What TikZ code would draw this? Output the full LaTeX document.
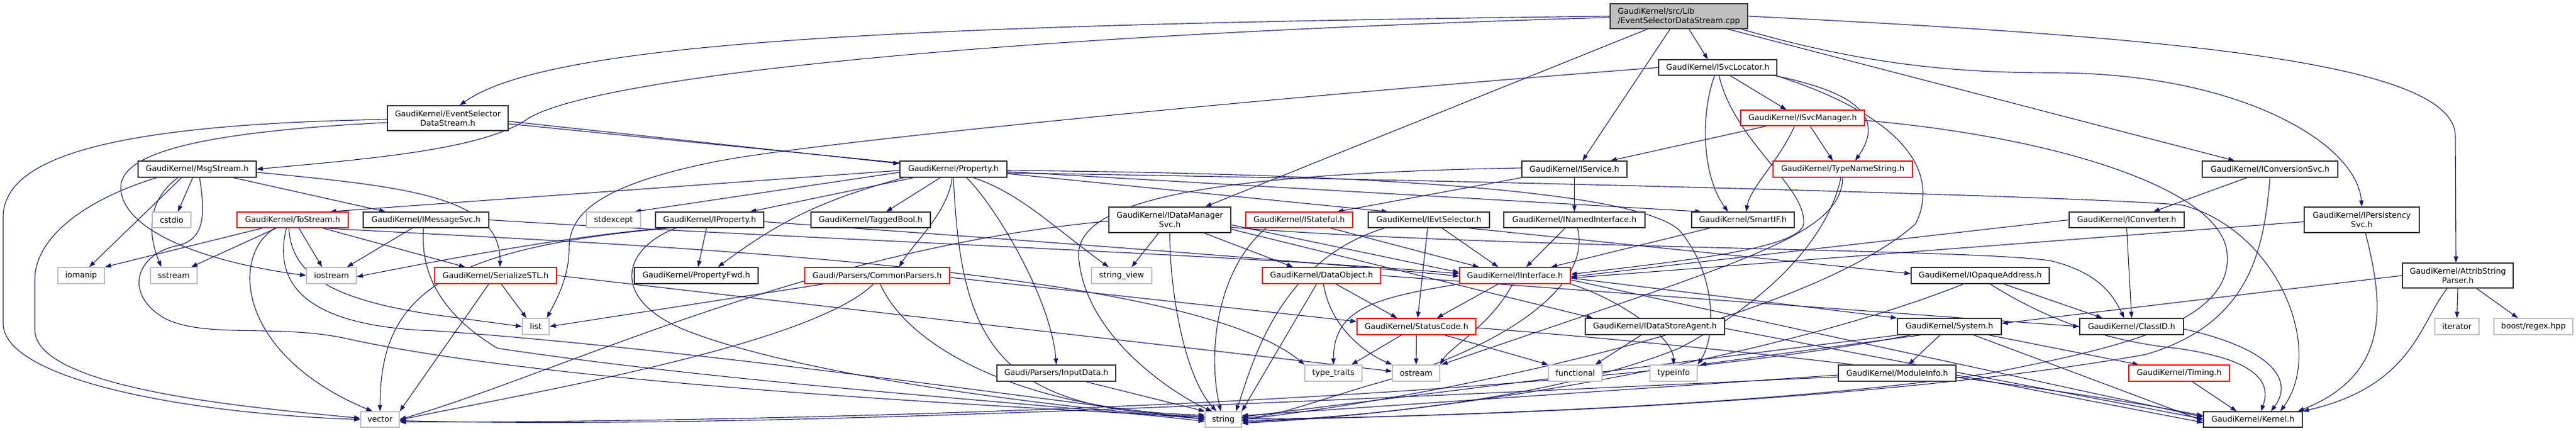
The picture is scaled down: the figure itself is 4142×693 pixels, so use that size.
\documentclass[tikz,border=0pt]{standalone}
\usepackage{fontspec}
\setmainfont{DejaVu Sans}
\usetikzlibrary{arrows.meta}
\definecolor{edgec}{RGB}{25,25,112}
\definecolor{grey75}{RGB}{191,191,191}
\definecolor{nodeblack}{RGB}{50,50,50}
\definecolor{rootborder}{RGB}{64,64,64}
\newcommand\fnt{\fontsize{12.7}{15}\selectfont}
\newcommand\nd[7]{\node[#6, minimum width={#4-#2}, minimum height={#5-#3}] (#1) at ({(#2+#4)/2},{(#3+#5)/2}) {#7};}
\pgfdeclarelayer{bg}
\pgfsetlayers{bg,main}
\tikzset{
 nbox/.style={draw=nodeblack, line width=1.3pt, fill=white, inner sep=0pt, font=\fnt, align=center},
 rbox/.style={nbox, draw=red},
 gbox/.style={nbox, draw=grey75},
 rootbox/.style={nbox, fill=grey75, draw=rootborder, align=left},
 e/.style={draw=edgec, line width=1.1pt, -{Triangle[length=10pt,width=7pt]}}
}
\begin{document}
\begin{tikzpicture}[x=1pt,y=-1pt]
\useasboundingbox (0,0) rectangle (4142,693);
% nodes
\nd{root}{2589}{6}{2810}{46}{rootbox}{GaudiKernel/src/Lib\\/EventSelectorDataStream.cpp}
\nd{esds}{623}{170}{817}{210}{nbox}{GaudiKernel/EventSelector\\DataStream.h}
\nd{msg}{222}{259}{412}{285}{nbox}{GaudiKernel/MsgStream.h}
\nd{cstdio}{245}{341}{307}{366}{gbox}{cstdio}
\nd{tostream}{381}{341}{560}{366}{rbox}{GaudiKernel/ToStream.h}
\nd{imsg}{584}{341}{786}{366}{nbox}{GaudiKernel/IMessageSvc.h}
\nd{iomanip}{93}{430}{168}{456}{gbox}{iomanip}
\nd{sstream}{242}{430}{317}{456}{gbox}{sstream}
\nd{iostream}{493}{430}{573}{456}{gbox}{iostream}
\nd{vector}{580}{662}{642}{687}{gbox}{vector}
\nd{serial}{699}{430}{895}{456}{rbox}{GaudiKernel/SerializeSTL.h}
\nd{stdexcept}{943}{341}{1030}{366}{gbox}{stdexcept}
\nd{iprop}{1054}{341}{1228}{366}{nbox}{GaudiKernel/IProperty.h}
\nd{propfwd}{1020}{430}{1219}{456}{nbox}{GaudiKernel/PropertyFwd.h}
\nd{list}{840}{512}{883}{538}{gbox}{list}
\nd{common}{1294}{430}{1527}{456}{rbox}{Gaudi/Parsers/CommonParsers.h}
\nd{tagged}{1304}{341}{1496}{366}{nbox}{GaudiKernel/TaggedBool.h}
\nd{prop}{1447}{259}{1619}{285}{nbox}{GaudiKernel/Property.h}
\nd{idms}{1783}{333}{1979}{374}{nbox}{GaudiKernel/IDataManager\\Svc.h}
\nd{sview}{1755}{430}{1852}{456}{gbox}{string\_view}
\nd{inputdata}{1603}{587}{1794}{613}{nbox}{Gaudi/Parsers/InputData.h}
\nd{string}{1938}{662}{1996}{687}{gbox}{string}
\nd{istateful}{2003}{341}{2175}{366}{rbox}{GaudiKernel/IStateful.h}
\nd{dataobj}{2030}{430}{2220}{456}{rbox}{GaudiKernel/DataObject.h}
\nd{ievtsel}{2200}{341}{2395}{366}{nbox}{GaudiKernel/IEvtSelector.h}
\nd{inamed}{2418}{341}{2645}{366}{nbox}{GaudiKernel/INamedInterface.h}
\nd{iservice}{2447}{259}{2616}{285}{nbox}{GaudiKernel/IService.h}
\nd{iinterface}{2347}{430}{2525}{456}{rbox}{GaudiKernel/IInterface.h}
\nd{status}{2182}{512}{2373}{538}{rbox}{GaudiKernel/StatusCode.h}
\nd{idsa}{2549}{512}{2773}{538}{nbox}{GaudiKernel/IDataStoreAgent.h}
\nd{ttraits}{2098}{587}{2190}{613}{gbox}{type\_traits}
\nd{ostream}{2239}{587}{2315}{613}{gbox}{ostream}
\nd{functional}{2490}{587}{2576}{613}{gbox}{functional}
\nd{typeinfo}{2653}{587}{2729}{613}{gbox}{typeinfo}
\nd{isvcloc}{2667}{96}{2857}{121}{nbox}{GaudiKernel/ISvcLocator.h}
\nd{smartif}{2720}{341}{2885}{366}{nbox}{GaudiKernel/SmartIF.h}
\nd{isvcmgr}{2799}{177}{2998}{202}{rbox}{GaudiKernel/ISvcManager.h}
\nd{typename}{2851}{259}{3075}{285}{rbox}{GaudiKernel/TypeNameString.h}
\nd{iconvsvc}{3541}{259}{3759}{285}{nbox}{GaudiKernel/IConversionSvc.h}
\nd{iconverter}{3327}{341}{3512}{366}{nbox}{GaudiKernel/IConverter.h}
\nd{ipers}{3705}{333}{3890}{374}{nbox}{GaudiKernel/IPersistency\\Svc.h}
\nd{attrib}{3863}{423}{4041}{463}{nbox}{GaudiKernel/AttribString\\Parser.h}
\nd{iterator}{3915}{512}{3986}{538}{gbox}{iterator}
\nd{boost}{4010}{512}{4137}{538}{gbox}{boost/regex.hpp}
\nd{iopaque}{3073}{430}{3295}{456}{nbox}{GaudiKernel/IOpaqueAddress.h}
\nd{system}{3051}{512}{3218}{538}{nbox}{GaudiKernel/System.h}
\nd{classid}{3344}{512}{3511}{538}{nbox}{GaudiKernel/ClassID.h}
\nd{moduleinfo}{2956}{587}{3145}{613}{nbox}{GaudiKernel/ModuleInfo.h}
\nd{timing}{3423}{587}{3585}{613}{rbox}{GaudiKernel/Timing.h}
\nd{kernel}{3543}{662}{3702}{687}{nbox}{GaudiKernel/Kernel.h}
\begin{pgfonlayer}{bg}
\fill[white] (0,0) rectangle (4142,693);
% root
\draw[e] (root.west) .. controls (1400,40) and (880,70) .. ([xshift=19pt]esds.north);
\draw[e] ([yshift=-2pt]root.west) .. controls (1500,60) and (950,130) .. (850,190) .. controls (780,240) and (600,255) .. (msg.east);
\draw[e] ([xshift=-50pt]root.south) -- ([xshift=57pt]idms.north);
\draw[e] ([xshift=-14pt]root.south) -- ([xshift=13pt]iservice.north);
\draw[e] ([xshift=16pt]root.south) -- ([xshift=-16pt]isvcloc.north);
\draw[e] ([xshift=78pt]root.south) -- ([xshift=-57pt]iconvsvc.north);
\draw[e] ([xshift=100pt]root.south) .. controls (3000,105) and (3150,117) .. (3300,117) .. controls (3600,117) and (3790,230) .. (ipers.north);
\draw[e] (root.east) .. controls (3500,60) and (3950,100) .. (3948,220) -- ([xshift=-3pt]attrib.north);
% esds
\draw[e] ([yshift=-2pt]esds.west) .. controls (150,200) and (5,260) .. (5,350) -- (5,520) .. controls (5,610) and (300,665) .. (vector.west);
\draw[e] ([yshift=-7pt]esds.west) .. controls (260,215) and (185,260) .. (195,310) .. controls (205,370) and (320,420) .. (iostream.west);
\draw[e] ([yshift=-5pt]esds.east) -- ([yshift=9pt]prop.west);
\draw[e] ([yshift=-9pt]esds.east) -- ([xshift=-66pt]ievtsel.north);
% msg
\draw[e] ([xshift=58pt]msg.south) -- ([xshift=-65pt]imsg.north);
\draw[e] ([yshift=-5pt]msg.east) .. controls (650,300) and (805,315) .. ([xshift=7pt]serial.north);
\draw[e] ([xshift=-7pt]msg.south) -- ([xshift=10pt]cstdio.north);
\draw[e] ([xshift=-25pt]msg.south) -- ([xshift=13pt]iomanip.north);
\draw[e] ([xshift=-31pt]msg.south) .. controls (240,320) and (235,370) .. ([xshift=-20pt]sstream.north);
\draw[e] ([xshift=-65pt]msg.south) .. controls (140,320) and (56,380) .. (56,450) -- (56,530) .. controls (56,625) and (400,655) .. ([yshift=2pt]vector.west);
\draw[e] ([xshift=4pt]msg.south) .. controls (330,345) and (330,385) .. (285,395) .. controls (215,410) and (200,475) .. (265,512) .. controls (330,545) and (450,520) .. (560,545) .. controls (900,620) and (1650,655) .. ([yshift=3pt]string.west);
% tostream
\draw[e] ([xshift=-48pt]tostream.south) -- (iomanip.north east);
\draw[e] ([xshift=-26pt]tostream.south) -- ([xshift=28pt]sstream.north);
\draw[e] ([xshift=10pt]tostream.south) -- ([xshift=-15pt]iostream.north);
\draw[e] ([xshift=-28pt]tostream.south) .. controls (370,410) and (380,570) .. ([xshift=-12pt]vector.north);
\draw[e] ([xshift=-10pt]tostream.south) .. controls (440,450) and (480,525) .. (700,532) .. controls (1100,560) and (1700,645) .. (string.west);
\draw[e] ([xshift=-6pt]tostream.south) .. controls (468,440) and (530,480) .. (690,505) -- (list.west);
\draw[e] ([xshift=48pt]tostream.south) -- ([xshift=-49pt]serial.north);
\draw[e] ([xshift=52pt]tostream.south) .. controls (900,390) and (1900,420) .. (ttraits.north west);
% imsg
\draw[e] ([xshift=-22pt]imsg.south) -- ([xshift=25pt]iostream.north);
\draw[e] ([xshift=-4pt]imsg.south) .. controls (676,430) and (700,500) .. (800,560) .. controls (1200,620) and (1700,650) .. ([yshift=-3pt]string.west);
\draw[e] (imsg.east) .. controls (1200,380) and (2000,410) .. ([yshift=3pt]iinterface.west);
% prop
\draw[e] ([yshift=-2pt]prop.west) -- ([xshift=60pt]tostream.north);
\draw[e] ([yshift=-5pt]prop.west) -- ([xshift=34pt]stdexcept.north);
\draw[e] ([xshift=-64pt]prop.south) -- ([xshift=65pt]iprop.north);
\draw[e] ([xshift=-80pt]prop.south) .. controls (1330,320) and (1260,350) .. ([xshift=35pt]propfwd.north);
\draw[e] ([xshift=-21pt]prop.south) -- ([xshift=25pt]tagged.north);
\draw[e] ([xshift=-2pt]prop.south) .. controls (1525,340) and (1470,390) .. ([xshift=35pt]common.north);
\draw[e] (prop.south) .. controls (1545,550) and (1600,660) .. ([yshift=5pt]string.west);
\draw[e] ([xshift=21pt]prop.south) .. controls (1600,330) and (1690,480) .. (inputdata.north);
\draw[e] ([xshift=32pt]prop.south) .. controls (1640,310) and (1700,370) .. ([xshift=-21pt]sview.north);
\draw[e] ([yshift=-4pt]prop.east) -- ([xshift=-67pt]smartif.north);
\draw[e] ([yshift=-6pt]prop.east) .. controls (2500,292) and (3400,318) .. (3510,330) .. controls (3660,370) and (3740,560) .. ([xshift=44pt]kernel.north);
\draw[e] ([yshift=-2pt]prop.east) .. controls (2300,280) and (2640,315) .. (2700,370) .. controls (2760,440) and (2760,540) .. (typeinfo.north east);
% iprop
\draw[e] ([xshift=-5pt]iprop.south) -- ([xshift=3pt]propfwd.north);
\draw[e] ([yshift=-3pt]iprop.east) .. controls (1700,390) and (2100,420) .. ([yshift=-1pt]iinterface.west);
\draw[e] ([xshift=-70pt]iprop.south) .. controls (900,380) and (650,430) .. ([yshift=-2pt]iostream.east);
\draw[e] ([xshift=-64pt]iprop.south) .. controls (700,400) and (612,480) .. (vector.north);
\draw[e] ([xshift=-54pt]iprop.south) .. controls (1000,400) and (980,480) .. (1100,530) .. controls (1300,610) and (1750,660) .. ([yshift=1pt]string.west);
% serial
\draw[e] ([xshift=9pt]serial.south) -- ([xshift=-15pt]list.north);
\draw[e] ([xshift=-11pt]serial.south) -- (vector.north east);
\draw[e] (serial.east) -- ([yshift=3pt]ostream.west);
% common
\draw[e] ([xshift=-86pt]common.south) -- (list.east);
\draw[e] ([xshift=-6pt]common.south) .. controls (1300,560) and (800,640) .. ([yshift=-1pt]vector.east);
\draw[e] ([xshift=5pt]common.south) .. controls (1460,560) and (1650,660) .. ([yshift=7pt]string.west);
\draw[e] ([yshift=-3pt]common.east) -- ([yshift=8pt]status.west);
% inputdata
\draw[e] ([xshift=47pt]inputdata.south) -- (string.north west);
% idms
\draw[e] ([xshift=-18pt]idms.south) -- ([xshift=16pt]sview.north);
\draw[e] (idms.south) .. controls (1880,450) and (1900,600) .. ([xshift=-11pt]string.north);
\draw[e] ([xshift=55pt]idms.south) -- ([xshift=-46pt]dataobj.north);
\draw[e] ([yshift=-2pt]idms.west) .. controls (1300,400) and (900,600) .. (vector.east);
\draw[e] ([yshift=-8pt]idms.east) -- ([yshift=5pt]iinterface.west);
\draw[e] ([yshift=-12pt]idms.east) .. controls (2400,400) and (3200,400) .. (3300,420) .. controls (3380,440) and (3400,480) .. ([xshift=-12pt]classid.north);
\draw[e] ([yshift=-15pt]idms.east) -- ([xshift=-100pt]idsa.north);
% dataobj
\draw[e] ([xshift=-8pt]dataobj.south) -- (string.north east);
\draw[e] ([xshift=3pt]dataobj.south) .. controls (2140,530) and (2200,570) .. (ostream.north west);
\draw[e] ([xshift=23pt]dataobj.south) -- ([xshift=-31pt]status.north);
\draw[e] (dataobj.east) -- (classid.west);
% istateful
\draw[e] ([xshift=50pt]istateful.south) -- ([xshift=-58pt]iinterface.north);
\draw[e] ([xshift=-53pt]istateful.south) .. controls (1960,430) and (1940,560) .. ([xshift=-4pt]string.north);
% ievtsel
\draw[e] ([xshift=-71pt]ievtsel.south) .. controls (2050,420) and (2010,600) .. ([xshift=20pt]string.north);
\draw[e] ([xshift=-2pt]ievtsel.south) -- ([xshift=2pt]status.north);
\draw[e] ([xshift=21pt]ievtsel.south) -- ([xshift=-27pt]iinterface.north);
\draw[e] ([xshift=63pt]ievtsel.south) -- ([yshift=3pt]iopaque.west);
% inamed
\draw[e] ([xshift=-15pt]inamed.south) -- ([xshift=18pt]iinterface.north);
\draw[e] ([xshift=5pt]inamed.south) .. controls (2560,460) and (2420,560) .. (2200,620) .. controls (2100,650) and (2050,670) .. ([yshift=3pt]string.east);
% iservice
\draw[e] (iservice.south west) -- ([xshift=61pt]istateful.north);
\draw[e] (iservice.south) -- (inamed.north);
\draw[e] ([yshift=2pt]iservice.west) .. controls (1900,280) and (1720,330) .. (1735,420) .. controls (1750,550) and (1900,640) .. ([xshift=-18pt]string.north);
% iinterface
\draw[e] (iinterface.south west) .. controls (2200,480) and (2145,500) .. (ttraits.north);
\draw[e] ([xshift=-27pt]iinterface.south) -- ([xshift=33pt]status.north);
\draw[e] ([xshift=-4pt]iinterface.south) .. controls (2400,520) and (2330,560) .. (ostream.north east);
\draw[e] ([yshift=-4pt]iinterface.east) -- (system.north west);
\draw[e] ([yshift=-7pt]iinterface.east) -- ([yshift=4pt]kernel.west);
\draw[e] (iinterface.south east) .. controls (2600,480) and (2690,540) .. (typeinfo.north);
% status
\draw[e] ([xshift=-24pt]status.south) -- ([xshift=29pt]ttraits.north);
\draw[e] (status.south) -- (ostream.north);
\draw[e] ([xshift=45pt]status.south) -- (functional.north west);
\draw[e] ([yshift=-2pt]status.east) .. controls (2800,560) and (3300,620) .. ([yshift=6pt]kernel.west);
% idsa
\draw[e] ([xshift=-22pt]idsa.south) -- ([xshift=32pt]functional.north);
\draw[e] ([yshift=-3pt]idsa.east) -- ([yshift=1pt]kernel.west);
% smartif
\draw[e] ([xshift=-53pt]smartif.south) -- ([xshift=58pt]iinterface.north);
% isvcloc
\draw[e] (isvcloc.west) .. controls (2000,160) and (1300,230) .. (1150,260) .. controls (950,300) and (915,350) .. (915,400) .. controls (915,450) and (890,490) .. ([xshift=18pt]list.north);
\draw[e] ([xshift=20pt]isvcloc.south) -- ([xshift=-26pt]isvcmgr.north);
\draw[e] ([xshift=92pt]isvcloc.south) .. controls (2990,150) and (3030,190) .. ([xshift=20pt]typename.north);
\draw[e] ([xshift=-5pt]isvcloc.south) .. controls (2735,180) and (2735,280) .. ([xshift=-24pt]smartif.north);
\draw[e] ([xshift=2pt]isvcloc.south) .. controls (2790,230) and (2905,300) .. (2900,360) .. controls (2895,400) and (2700,420) .. ([yshift=2pt]iinterface.east);
\draw[e] ([xshift=94pt]isvcloc.south) .. controls (3100,200) and (3110,300) .. (3080,360) .. controls (2900,520) and (2300,640) .. (string.east);
% isvcmgr
\draw[e] ([xshift=-58pt]isvcmgr.south) -- ([xshift=58pt]iservice.north);
\draw[e] ([xshift=-13pt]isvcmgr.south) .. controls (2860,260) and (2815,300) .. ([xshift=5pt]smartif.north);
\draw[e] ([xshift=12pt]isvcmgr.south) -- ([xshift=-16pt]typename.north);
\draw[e] ([yshift=-4pt]isvcmgr.east) .. controls (3300,220) and (3560,300) .. (3580,400) .. controls (3600,520) and (3400,560) .. (3200,600) .. controls (2800,660) and (2200,670) .. ([yshift=-2pt]string.east);
% typename
\draw[e] ([xshift=-3pt]typename.south) .. controls (2940,380) and (2850,480) .. (2700,560) .. controls (2500,640) and (2200,670) .. ([yshift=-4pt]string.east);
\draw[e] (typename.south) .. controls (2960,380) and (2800,420) .. ([xshift=2pt]ostream.north east);
% iconvsvc
\draw[e] ([xshift=-37pt]iconvsvc.south) -- ([xshift=43pt]iconverter.north);
\draw[e] (iconvsvc.south) .. controls (3640,400) and (3620,520) .. (3450,570) .. controls (3000,650) and (2300,672) .. ([yshift=1pt]string.east);
% iconverter
\draw[e] (iconverter.west) -- ([yshift=-2pt]iinterface.east);
\draw[e] (iconverter.south) -- (classid.north);
% ipers
\draw[e] ([yshift=-3pt]ipers.west) -- ([yshift=-4pt]iinterface.east);
\draw[e] ([xshift=6pt]ipers.south) .. controls (3830,480) and (3850,600) .. ([xshift=-8pt]kernel.north east);
% attrib
\draw[e] (attrib.west) -- ([yshift=5pt]system.east);
\draw[e] (attrib.south) -- (iterator.north);
\draw[e] ([xshift=30pt]attrib.south) -- ([xshift=-25pt]boost.north);
\draw[e] ([xshift=-17pt]attrib.south) .. controls (3890,520) and (3880,620) .. (kernel.north east);
% iopaque
\draw[e] ([xshift=38pt]iopaque.south) -- ([xshift=-47pt]classid.north);
\draw[e] ([xshift=16pt]iopaque.south) .. controls (3300,520) and (3400,550) .. (3500,560) .. controls (3640,580) and (3650,620) .. ([xshift=13pt]kernel.north);
\draw[e] ([xshift=-27pt]iopaque.south) .. controls (2900,560) and (2400,660) .. ([yshift=-6pt]string.east);
% classid
\draw[e] ([yshift=-4pt]classid.east) .. controls (3650,560) and (3690,610) .. ([xshift=29pt]kernel.north);
% system
\draw[e] ([xshift=-15pt]system.south) -- ([xshift=18pt]moduleinfo.north);
\draw[e] ([xshift=63pt]system.south) -- ([xshift=-65pt]timing.north);
\draw[e] ([xshift=39pt]system.south) -- ([yshift=-2pt]kernel.west);
\draw[e] ([xshift=-82pt]system.south) -- ([yshift=4pt]string.east);
\draw[e] ([xshift=-62pt]system.south) .. controls (2500,650) and (1200,680) .. ([yshift=-4pt]vector.east);
\draw[e] ([xshift=-46pt]system.south) -- ([xshift=4pt]typeinfo.north east);
% moduleinfo
\draw[e] ([yshift=-3pt]moduleinfo.east) -- ([yshift=-5pt]kernel.west);
\draw[e] ([yshift=-3pt]moduleinfo.west) -- ([yshift=6pt]string.east);
\draw[e] ([yshift=-6pt]moduleinfo.west) .. controls (2000,650) and (1200,690) .. ([yshift=-2pt]vector.east);
% timing
\draw[e] ([xshift=21pt]timing.south) -- ([xshift=-26pt]kernel.north);
\end{pgfonlayer}
\end{tikzpicture}
\end{document}
